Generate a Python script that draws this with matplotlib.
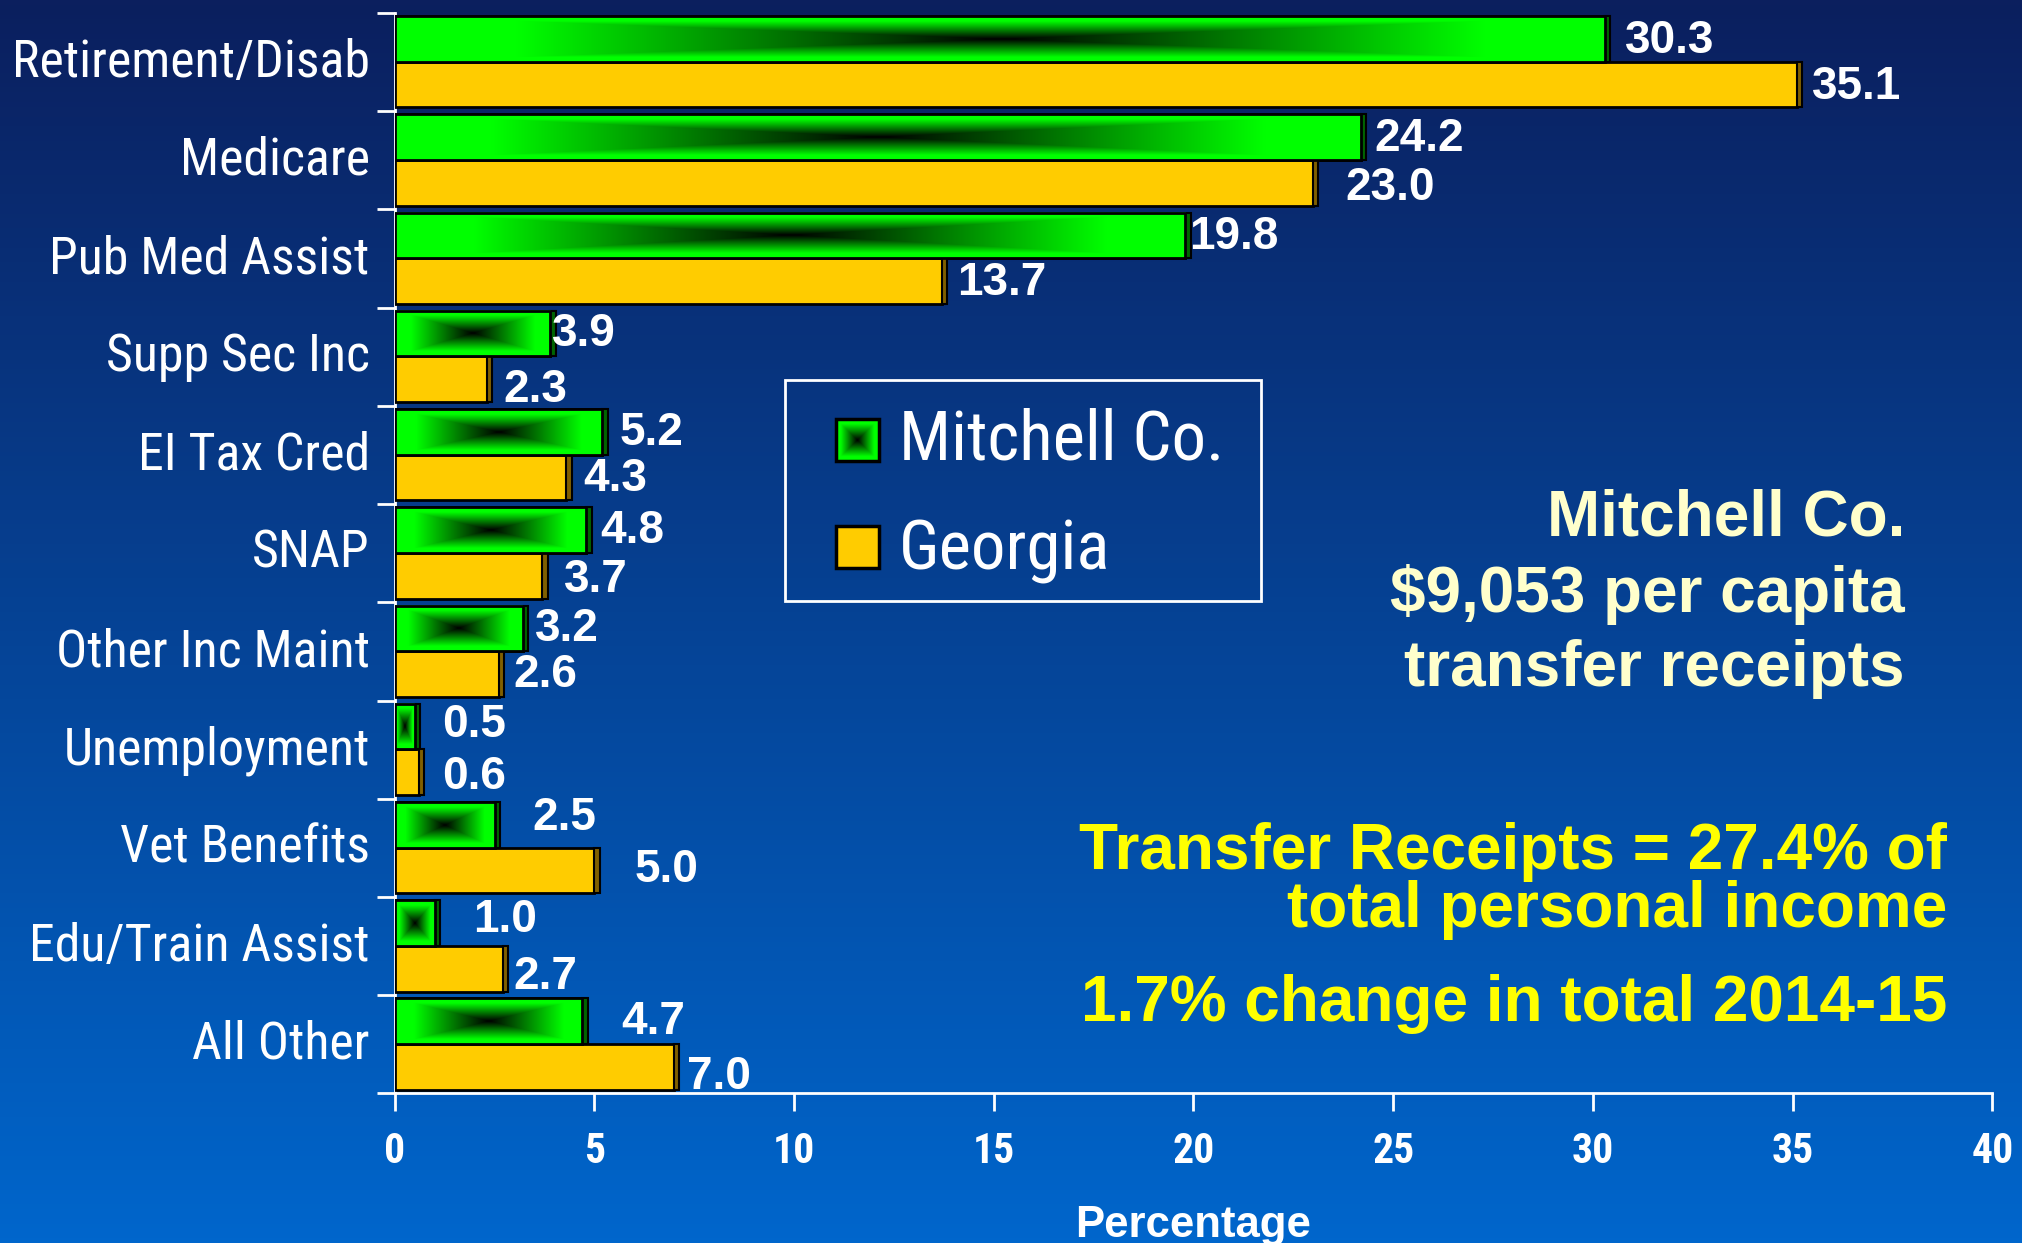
import matplotlib
matplotlib.use('Agg')
import matplotlib.pyplot as plt
from matplotlib import font_manager
from matplotlib.patches import Rectangle
import numpy as np

# data
categories = ['Retirement/Disab', 'Medicare', 'Pub Med Assist', 'Supp Sec Inc', 'EI Tax Cred',
              'SNAP', 'Other Inc Maint', 'Unemployment', 'Vet Benefits', 'Edu/Train Assist', 'All Other']
mitchell = [30.3, 24.2, 19.8, 3.9, 5.2, 4.8, 3.2, 0.5, 2.5, 1.0, 4.7]
georgia = [35.1, 23.0, 13.7, 2.3, 4.3, 3.7, 2.6, 0.6, 5.0, 2.7, 7.0]
xticks = [0, 5, 10, 15, 20, 25, 30, 35, 40]

# label nudges (points) as placed on the slide
green_dx = [15.5, 10.4, 3, 1, 13, 11, 10, 21.5, 29, 30, 30.4]
green_dy = [1.5, 1.3, 1.1, 0, 0.7, 0.5, 0.3, -0.9, -5.1, -2.3, 0.5]
yellow_dx = [12, 24.6, 12, 13, 13, 16.4, 11.5, 18.4, 31, 8.4, 10]
yellow_dy = [2, 3.8, 1.6, 8.4, 1.2, 3, 0.8, 3.6, -0.6, 6.2, 8]

names = {f.name for f in font_manager.fontManager.ttflist}
narrow = 'Liberation Sans'
for cand in ['Liberation Sans Narrow', 'Arial Narrow', 'Roboto Condensed', 'Open Sans Condensed',
             'DejaVu Sans Condensed']:
    if cand in names:
        narrow = cand
        break
plt.rcParams['font.family'] = ['Liberation Sans', 'DejaVu Sans']

GREEN = '#00FF00'
YELLOW = '#FFCC00'
DKGREEN = '#006400'
DKYELLOW = '#806000'


def box_grad(nx, ny):
    u = np.abs(np.linspace(-1, 1, nx))[None, :]
    v = np.abs(np.linspace(-1, 1, ny))[:, None]
    d = np.maximum(u, v)
    f = np.clip(d / 0.8, 0, 1)
    img = np.zeros((ny, nx, 3))
    img[..., 1] = f
    return img


fig = plt.figure(figsize=(20.22, 12.43), dpi=100)
renderer = fig.canvas.get_renderer()


def fit_size(s, target_px, **kw):
    t = fig.text(0, 0, s, fontsize=20, **kw)
    w = t.get_window_extent(renderer).width
    t.remove()
    return 20 * target_px / w


cat_fs = fit_size('Retirement/Disab', 357, fontfamily=narrow)
leg_fs = fit_size('Mitchell Co.', 324, fontfamily=narrow)
tick_fs = min(31, fit_size('10', 42, fontfamily=narrow, fontweight='bold'))

# slide background
bg = fig.add_axes([0, 0, 1, 1], zorder=-5)
top = np.array([11, 31, 94]) / 255.0
bot = np.array([0, 102, 204]) / 255.0
t = np.linspace(0, 1, 256)[:, None]
bg.imshow((top * (1 - t) + bot * t)[:, None, :], aspect='auto', extent=[0, 1, 0, 1])
bg.axis('off')

ax = fig.add_axes([0.1952, 0.1203, 0.7901, 0.8693])
ax.set_facecolor('none')

y = np.arange(len(categories))
bh = 0.465
yg = y - 0.235
yy = y + 0.23

gbars = ax.barh(yg, mitchell, height=bh, color=GREEN, edgecolor='black', linewidth=2, zorder=3)
ax.barh(yy, georgia, height=bh, color=YELLOW, edgecolor='black', linewidth=2, zorder=3)
# 3d side strip
ax.barh(yg, [0.13] * len(mitchell), left=mitchell, height=bh, color=DKGREEN, edgecolor='black', linewidth=1.5, zorder=3)
ax.barh(yy, [0.13] * len(georgia), left=georgia, height=bh, color=DKYELLOW, edgecolor='black', linewidth=1.5, zorder=3)

for b in gbars:
    x0, y0 = b.get_xy()
    w, h = b.get_width(), b.get_height()
    img = box_grad(max(int(w * 40), 12), 46)
    ax.imshow(img, extent=[x0, x0 + w, y0 + h, y0], aspect='auto', zorder=4, interpolation='bilinear')
    ax.add_patch(Rectangle((x0, y0), w, h, fill=False, edgecolor='black', linewidth=2, zorder=5))

for i in range(len(categories)):
    ax.annotate(f'{mitchell[i]:.1f}', xy=(mitchell[i], yg[i]), xytext=(green_dx[i] * 0.93, -green_dy[i] * 0.93),
                textcoords='offset points', ha='left', va='center', color='white', fontsize=33,
                fontweight='bold', zorder=6)
    ax.annotate(f'{georgia[i]:.1f}', xy=(georgia[i], yy[i]), xytext=(yellow_dx[i] * 0.93, -yellow_dy[i] * 0.93),
                textcoords='offset points', ha='left', va='center', color='white', fontsize=33,
                fontweight='bold', zorder=6)

ax.set_xlim(0, 40)
ax.set_ylim(len(categories) - 0.5, -0.5)
ax.set_xticks(xticks)
ax.set_xticklabels([str(v) for v in xticks], fontfamily=narrow, fontweight='bold', fontsize=tick_fs, color='white')
ax.set_yticks(np.arange(len(categories) + 1) - 0.5)
ax.set_yticklabels([])
ax.set_yticks(y - 0.05, minor=True)
ax.set_yticklabels(categories, minor=True, fontfamily=narrow, fontsize=cat_fs, color='white')
ax.tick_params(axis='y', which='minor', length=0, pad=18)
ax.tick_params(axis='y', which='major', length=13, width=2, color='white', direction='out')
ax.tick_params(axis='x', length=13, width=2, color='white', direction='out', pad=14)
for s in ['top', 'right']:
    ax.spines[s].set_visible(False)
for s in ['left', 'bottom']:
    ax.spines[s].set_color('white')
    ax.spines[s].set_linewidth(2)
ax.set_xlabel('Percentage', color='white', fontsize=31.5, fontweight='bold', labelpad=24)

# legend box
W, H = 2022.0, 1243.0
fig.patches.append(Rectangle((785 / W, 1 - 601 / H), 476 / W, 221 / H, transform=fig.transFigure,
                             fill=False, edgecolor='white', linewidth=2))
for cy, ty, lab, col in [(440, 441, 'Mitchell Co.', None), (547, 551, 'Georgia', YELLOW)]:
    x0, x1 = 836 / W, 879 / W
    y0, y1 = 1 - (cy + 21) / H, 1 - (cy - 21) / H
    if col is None:
        bg.imshow(box_grad(40, 40), extent=[x0, x1, y0, y1], aspect='auto', zorder=2, interpolation='bilinear')
    else:
        bg.add_patch(Rectangle((x0, y0), x1 - x0, y1 - y0, facecolor=col, zorder=2))
    bg.add_patch(Rectangle((x0, y0), x1 - x0, y1 - y0, fill=False, edgecolor='black', linewidth=2.5, zorder=3))
    fig.text(899 / W, 1 - ty / H, lab, fontfamily=narrow, fontsize=leg_fs, color='white', ha='left', va='center')
bg.set_xlim(0, 1)
bg.set_ylim(0, 1)

# side notes
for cy, s in [(518, 'Mitchell Co.'), (594, '$9,053 per capita'), (669, 'transfer receipts')]:
    fig.text(1905 / W, 1 - cy / H, s, fontsize=46, fontweight='bold', color='#FFFFCC', ha='right', va='center')
for cy, s in [(852, 'Transfer Receipts = 27.4% of'), (910, 'total personal income'),
              (1004, '1.7% change in total 2014-15')]:
    fig.text(1947 / W, 1 - cy / H, s, fontsize=46, fontweight='bold', color='#FFFF00', ha='right', va='center')

fig.savefig('out.png', dpi=100)
